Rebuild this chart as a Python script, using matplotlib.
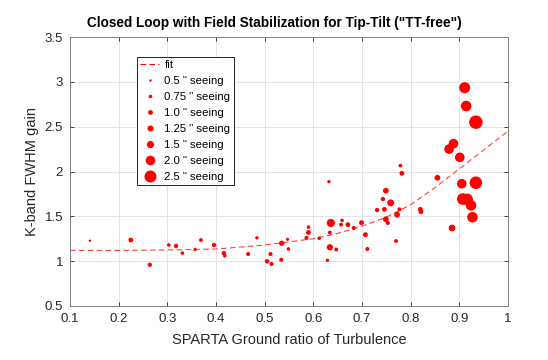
import matplotlib
matplotlib.use("Agg")
import matplotlib.pyplot as plt
from matplotlib.lines import Line2D
import numpy as np

plt.rcParams['font.family'] = ['Liberation Sans', 'DejaVu Sans']

# SPARTA ground ratio, FWHM gain, seeing (arcsec) per measurement
ground_ratio = [0.141, 0.225, 0.264, 0.303, 0.318, 0.331, 0.357, 0.369, 0.396,
                0.416, 0.418, 0.466, 0.484, 0.505, 0.512, 0.514, 0.535, 0.534,
                0.547, 0.549, 0.586, 0.590, 0.590, 0.612,
                0.632, 0.636, 0.634, 0.634, 0.629, 0.647, 0.657, 0.659, 0.671,
                0.683, 0.699, 0.707, 0.711, 0.731, 0.743, 0.746, 0.749, 0.759,
                0.749, 0.753, 0.772, 0.777, 0.770, 0.779, 0.782, 0.820, 0.821,
                0.855, 0.911, 0.914, 0.934, 0.888, 0.879, 0.901, 0.905, 0.934,
                0.907, 0.916, 0.924, 0.927, 0.885]
fwhm_gain = [1.228, 1.236, 0.960, 1.180, 1.170, 1.090, 1.130, 1.236, 1.180,
             1.090, 1.060, 1.080, 1.260, 0.998, 1.080, 0.968, 1.200, 1.016,
             1.244, 1.136, 1.260, 1.320, 1.380, 1.255,
             1.886, 1.426, 1.320, 1.155, 1.010, 1.130, 1.407, 1.455, 1.407,
             1.370, 1.430, 1.295, 1.136, 1.570, 1.693, 1.578, 1.786, 1.650,
             1.467, 1.426, 1.518, 1.578, 1.225, 2.065, 1.980, 1.578, 1.552,
             1.930, 2.934, 2.730, 2.550, 2.310, 2.250, 2.158, 1.864, 1.875,
             1.693, 1.690, 1.623, 1.490, 1.370]
seeing = [0.5, 1.0, 0.9, 0.75, 0.9, 0.75, 0.7, 0.8, 0.9,
          0.9, 0.75, 0.85, 0.7, 0.95, 0.85, 0.85, 1.1, 0.85,
          0.65, 0.75, 0.85, 1.0, 0.75, 0.75,
          0.7, 1.7, 0.8, 1.3, 0.7, 0.8, 0.8, 0.75, 1.0,
          0.85, 1.0, 1.0, 0.85, 0.9, 0.9, 1.0, 1.2, 1.45,
          1.2, 0.85, 1.2, 0.85, 0.8, 0.8, 1.0, 1.0, 1.0,
          1.2, 2.3, 2.2, 2.8, 2.0, 2.0, 2.0, 2.0, 2.6,
          2.4, 2.4, 2.2, 2.2, 1.4]

fit_x = [0.1, 0.2, 0.3, 0.4, 0.5, 0.6, 0.65, 0.7, 0.75, 0.8, 0.85, 0.9, 0.95, 1.0]
fit_y = [1.12, 1.12, 1.125, 1.135, 1.18, 1.25, 1.31, 1.39, 1.49, 1.63, 1.82, 2.03, 2.24, 2.45]

legend_seeing = [0.5, 0.75, 1.0, 1.25, 1.5, 2.0, 2.5]
legend_labels = ['0.5 " seeing', '0.75 " seeing', '1.0 " seeing', '1.25 " seeing',
                 '1.5 " seeing', '2.0 " seeing', '2.5 " seeing']

size_k = 3.46  # marker diameter (pt) per arcsec of seeing

fig = plt.figure(figsize=(5.48, 3.6), dpi=100)
ax = fig.add_axes([70 / 548, 54 / 360, 438 / 548, 269 / 360])

ax.plot(fit_x, fit_y, color='#ff0000', lw=0.8, dashes=(5, 3), alpha=0.75, zorder=2)
ax.scatter(ground_ratio, fwhm_gain, s=(size_k * np.array(seeing)) ** 2,
           color='#ff0000', edgecolors='none', zorder=3)

ax.set_xlim(0.1, 1)
ax.set_ylim(0.5, 3.5)
ax.set_xticks(np.arange(0.1, 1.01, 0.1))
ax.set_xticklabels(['0.1', '0.2', '0.3', '0.4', '0.5', '0.6', '0.7', '0.8', '0.9', '1'])
ax.set_yticks(np.arange(0.5, 3.51, 0.5))
ax.set_yticklabels(['0.5', '1', '1.5', '2', '2.5', '3', '3.5'])
ax.grid(True, color='#e3e3e3', lw=0.7)
ax.set_axisbelow(True)
ax.tick_params(direction='in', top=True, right=True, length=3, width=0.6,
               colors='#262626', labelsize=9.5, labelcolor='#262626', pad=5)
for sp in ax.spines.values():
    sp.set_color('#808080')
    sp.set_linewidth(0.7)

ttl = ax.set_title('Closed Loop with Field Stabilization for Tip-Tilt ("TT-free")',
                   fontsize=9.8, fontweight='bold', pad=7)
ttl.set_x((274 - 70) / 438)
ax.set_xlabel('SPARTA Ground ratio of Turbulence', fontsize=10.5, color='#262626', labelpad=6)
ax.set_ylabel('K-band FWHM gain', fontsize=10.5, color='#262626', labelpad=4)

handles = [Line2D([], [], color='#ff0000', lw=0.8, dashes=(5, 3))]
for s in legend_seeing:
    handles.append(Line2D([], [], ls='none', marker='o', color='#ff0000',
                          markeredgecolor='none', markersize=size_k * s))
leg = ax.legend(handles, ['fit'] + legend_labels, loc='upper left',
                bbox_to_anchor=(0.153, 0.926), borderaxespad=0, fontsize=8.2,
                frameon=True, fancybox=False, edgecolor='black', framealpha=1,
                handlelength=1.6, handletextpad=0.5, labelspacing=0.52,
                borderpad=0.3)
leg.get_frame().set_linewidth(0.6)

fig.savefig('out.png', dpi=100)
